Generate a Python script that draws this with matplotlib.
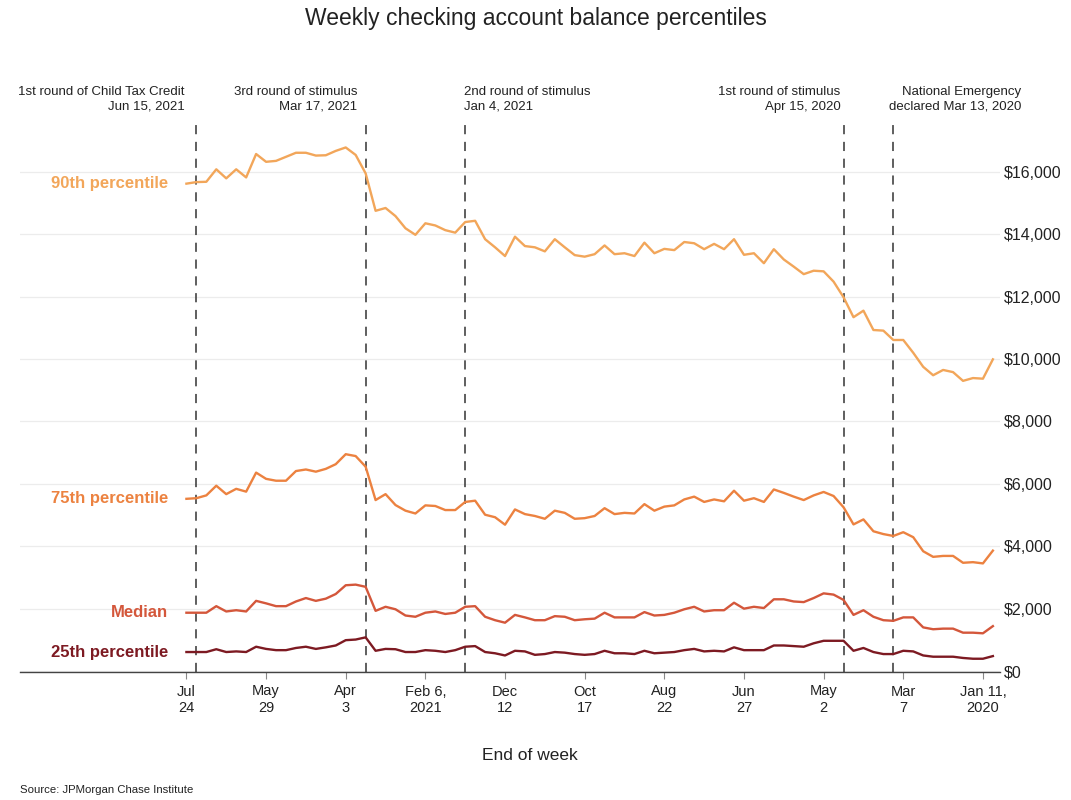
import pandas as pd
import numpy as np
import matplotlib.pyplot as plt
import matplotlib.transforms as mtransforms

plt.rcParams['font.family'] = ['Liberation Sans', 'DejaVu Sans']

# weekly series, week ending Jan 4 2020 .. Jul 24 2021
weeks = pd.date_range('2020-01-04', periods=82, freq='7D')

p90 = [9990, 9370, 9390, 9300, 9580, 9650, 9480, 9750, 10200, 10610,
       10610, 10910, 10930, 11550, 11340, 11980, 12480, 12810, 12830, 12720,
       12960, 13190, 13520, 13070, 13390, 13340, 13840, 13520, 13690, 13520,
       13710, 13750, 13490, 13530, 13390, 13730, 13300, 13390, 13360, 13640,
       13360, 13280, 13330, 13580, 13840, 13450, 13580, 13620, 13920, 13300,
       13580, 13840, 14430, 14390, 14050, 14130, 14280, 14350, 13980, 14190,
       14580, 14840, 14750, 15950, 16540, 16780, 16670, 16530, 16520, 16610,
       16610, 16480, 16350, 16320, 16570, 15820, 16080, 15790, 16080, 15680,
       15670, 15620]
p75 = [3860, 3450, 3490, 3470, 3690, 3690, 3660, 3840, 4290, 4450,
       4330, 4390, 4480, 4860, 4700, 5250, 5610, 5740, 5630, 5480,
       5590, 5710, 5820, 5420, 5540, 5460, 5780, 5440, 5500, 5420,
       5590, 5500, 5310, 5270, 5140, 5350, 5050, 5070, 5030, 5220,
       4970, 4900, 4880, 5070, 5140, 4880, 4970, 5030, 5180, 4690,
       4930, 5010, 5460, 5420, 5160, 5160, 5290, 5310, 5050, 5140,
       5320, 5670, 5480, 6550, 6890, 6950, 6630, 6480, 6390, 6460,
       6410, 6100, 6100, 6160, 6360, 5750, 5840, 5670, 5940, 5630,
       5540, 5520]
median = [1440, 1210, 1230, 1230, 1360, 1360, 1340, 1400, 1720, 1720,
          1610, 1630, 1740, 1950, 1800, 2280, 2450, 2490, 2340, 2210,
          2230, 2300, 2300, 2020, 2060, 2000, 2190, 1950, 1950, 1910,
          2060, 1980, 1870, 1800, 1780, 1890, 1720, 1720, 1720, 1870,
          1680, 1660, 1630, 1740, 1760, 1630, 1630, 1720, 1800, 1550,
          1630, 1740, 2080, 2060, 1870, 1830, 1910, 1870, 1740, 1780,
          1980, 2060, 1930, 2700, 2770, 2750, 2470, 2320, 2250, 2340,
          2230, 2080, 2080, 2170, 2250, 1910, 1950, 1910, 2080, 1870,
          1870, 1870]
p25 = [480, 395, 395, 420, 460, 460, 460, 500, 630, 650,
       545, 545, 610, 740, 650, 970, 970, 970, 890, 780,
       800, 820, 820, 670, 670, 670, 760, 630, 650, 630,
       710, 670, 610, 590, 570, 650, 545, 570, 570, 650,
       545, 520, 545, 590, 610, 545, 520, 630, 650, 500,
       570, 610, 800, 780, 670, 610, 650, 670, 610, 610,
       700, 710, 650, 1080, 1010, 990, 820, 760, 710, 780,
       740, 670, 670, 710, 780, 610, 630, 610, 700, 610,
       610, 610]

series_names = ['90th percentile', '75th percentile', 'Median', '25th percentile']
series_colors = ['#F2A65A', '#EC8240', '#D4573B', '#7D1A22']

# event markers (drawn at the week ending after the event)
event_dates = pd.to_datetime(['2020-03-14', '2020-04-18', '2021-01-09', '2021-03-20', '2021-07-17'])
event_labels = ['National Emergency\ndeclared Mar 13, 2020',
                '1st round of stimulus\nApr 15, 2020',
                '2nd round of stimulus\nJan 4, 2021',
                '3rd round of stimulus\nMar 17, 2021',
                '1st round of Child Tax Credit\nJun 15, 2021']
event_offsets = [3, 2, 1, 6, 8]          # days
event_ha = ['left', 'right', 'left', 'right', 'right']
event_ma = ['right', 'right', 'left', 'right', 'right']

tick_dates = pd.to_datetime(['2020-01-11', '2020-03-07', '2020-05-02', '2020-06-27',
                             '2020-08-22', '2020-10-17', '2020-12-12', '2021-02-06',
                             '2021-04-03', '2021-05-29', '2021-07-24'])
tick_labels = ['Jan 11,\n2020', 'Mar\n7', 'May\n2', 'Jun\n27', 'Aug\n22', 'Oct\n17',
               'Dec\n12', 'Feb 6,\n2021', 'Apr\n3', 'May\n29', 'Jul\n24']

fig = plt.figure(figsize=(10.71, 8), dpi=100)
ax = fig.add_axes([20 / 1071, 128 / 800, 980 / 1071, 552 / 800])

for vals, name, col in zip([p90, p75, median, p25], series_names, series_colors):
    ax.plot(weeks, vals, color=col, lw=1.7, solid_joinstyle='round', zorder=3)
    ax.text(weeks[-1] + pd.Timedelta(days=13), vals[-1], name, color=col,
            fontsize=12, fontweight='bold', ha='right', va='center')

trans = mtransforms.blended_transform_factory(ax.transData, ax.transAxes)
for d, lab, off, ha, ma in zip(event_dates, event_labels, event_offsets, event_ha, event_ma):
    ax.axvline(d, color='#333333', lw=1.1, ls=(0, (6, 5)), zorder=2)
    ax.text(d + pd.Timedelta(days=off), 1.013, lab, transform=trans, ha=ha, va='bottom',
            multialignment=ma, fontsize=9.5, color='#222222', linespacing=1.35)

ax.set_xlim(weeks[0] + pd.Timedelta(days=684), weeks[0] - pd.Timedelta(days=5))
ax.set_ylim(-30, 17660)

ax.set_yticks(np.arange(0, 16001, 2000))
ax.set_yticklabels(['$0'] + ['${:,}'.format(v) for v in range(2000, 16001, 2000)])
ax.yaxis.tick_right()
ax.tick_params(axis='y', length=0, pad=3, labelsize=11.5, labelcolor='#222222')
ax.grid(axis='y', color='#ececec', lw=0.9, zorder=0)

ax.set_xticks(tick_dates)
ax.set_xticklabels(tick_labels)
ax.tick_params(axis='x', length=5, color='#888888', labelsize=10.5, labelcolor='#222222', pad=4)

for s in ['top', 'left', 'right']:
    ax.spines[s].set_visible(False)
ax.spines['bottom'].set_color('#444444')
ax.spines['bottom'].set_linewidth(1)

fig.text(0.5, 1 - 18 / 800, 'Weekly checking account balance percentiles',
         ha='center', va='center', fontsize=16.5, color='#222222')
fig.text(530 / 1071, 1 - 755 / 800, 'End of week', ha='center', va='center',
         fontsize=12.5, color='#222222')
fig.text(20 / 1071, 1 - 790 / 800, 'Source: JPMorgan Chase Institute', ha='left',
         va='center', fontsize=8.2, color='#222222')

fig.savefig('out.png', dpi=100)
